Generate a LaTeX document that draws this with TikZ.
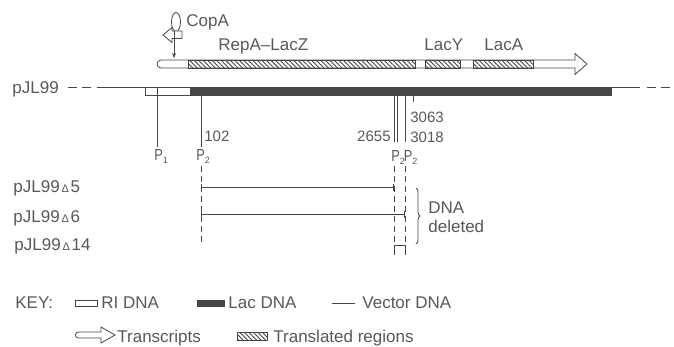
\documentclass[tikz,border=0pt]{standalone}
\usepackage{fontspec}
\setmainfont{Liberation Sans}
\usetikzlibrary{arrows.meta,patterns.meta,decorations.pathreplacing}
\definecolor{inkGray}{RGB}{70,70,70}
\definecolor{textGray}{RGB}{88,88,88}
\newcommand{\subP}[1]{\scalebox{0.8}[1]{P}\raisebox{-0.45ex}{\fontsize{9}{9}\selectfont #1}}
\newcommand{\dlt}{{\fontsize{11}{11}\selectfont\,Δ\,}}
\tikzset{
  lbl/.style={inner sep=0pt,anchor=base west,text=textGray,font=\fontsize{17}{19}\selectfont},
  numlbl/.style={lbl,font=\fontsize{15}{17}\selectfont},
  plbl/.style={lbl,font=\fontsize{16}{18}\selectfont},
  hatched/.style={pattern={Lines[angle=-45,distance=3.2pt,line width=0.9pt]},pattern color=inkGray},
  dashguide/.style={dash pattern=on 6pt off 4pt},
  deltick/.style={{Bar[width=7pt]}-{Bar[width=7pt]}}
}

\begin{document}
\begin{tikzpicture}[x=1pt,y=-1pt,line width=0.8pt,inkGray]
\useasboundingbox (0,0) rectangle (674,346);

% transcript with translated regions
\draw[fill=white] (161,60) -- (575,60) -- (575,53.5) -- (587,64) -- (575,74.5) -- (575,68) -- (161,68) arc[start angle=90,end angle=270,radius=4] -- cycle;
\foreach \a/\b in {188/415,425/460,473/533}
  \draw[hatched] (\a,60) rectangle (\b,68);
\node[lbl] (repaLacz) at (218,50) {RepA–LacZ};
\node[lbl] (lacY) at (424,50) {LacY};
\node[lbl] (lacA) at (484,50) {LacA};

% CopA
\draw (176,22) ellipse[x radius=4.5,y radius=9.5];
\draw[fill=white] (163,35) -- (172,27.5) -- (172,31) -- (182,31) -- (182,38.5) -- (172,38.5) -- (172,42.5) -- cycle;
\draw[-{Stealth[length=5pt,width=4pt]}] (174,30.5) -- (174,58);
\node[lbl] (copA) at (186,26) {CopA};

% pJL99 map
\node[lbl] (pjl) at (12,93) {pJL99};
\draw[dash pattern=on 9pt off 5pt] (68,87.5) -- (91,87.5);
\draw (97,87.5) -- (640,87.5);
\draw[dash pattern=on 9pt off 5pt] (647,87.5) -- (670,87.5);
\draw[fill=white] (145,87.5) rectangle (190,95);
\fill (190,87.5) rectangle (612,95.5);

\draw (157,87.5) -- (157,147);
\draw (201,95) -- (201,147);
\foreach \x in {394.5,397.5,405.5}
  \draw (\x,95) -- (\x,142);
\draw (413.5,95) -- (413.5,102);

\node[numlbl] (n102) at (204,141) {102};
\node[numlbl,anchor=base east] (n2655) at (391,141) {2655};
\node[numlbl] (n3063) at (410,122) {3063};
\node[numlbl] (n3018) at (410,142) {3018};
\node[plbl] (pOne) at (154,160) {\subP{1}};
\node[plbl] (pTwo) at (196,160) {\subP{2}};
\node[plbl] (pTwoTwo) at (391,161) {\subP{2}\kern-1pt\subP{2}};

% deletions
\foreach \x in {201,394,405}
  \draw[dashguide] (\x,166) -- (\x,242);
\node[lbl] (d5) at (13,192) {pJL99\dlt5};
\node[lbl] (d6) at (13,222) {pJL99\dlt6};
\node[lbl] (d14) at (14,250) {pJL99\dlt14};
\draw[deltick] (201,187) -- (394,187);
\draw[deltick] (201,214) -- (405,214);
\draw (394,255) -- (394,245) -- (405,245) -- (405,255);
\draw[decorate,decoration={brace,amplitude=4pt}] (416,188) -- (416,244);
\node[lbl] (dnaLbl) at (428,213) {DNA};
\node[lbl] (delLbl) at (428,232) {deleted};

% key
\node[lbl] (key) at (15,308) {KEY:};
\draw[fill=white] (75,300) rectangle (97,306.5);
\node[lbl] (keyRi) at (101,308) {RI DNA};
\fill (197,300) rectangle (225,307);
\node[lbl] (keyLac) at (228,308) {Lac DNA};
\draw (332,303.5) -- (355,303.5);
\node[lbl] (keyVec) at (362,308) {Vector DNA};
\draw[fill=white] (78.5,332) -- (101,332) -- (101,327) -- (115,335) -- (101,343) -- (101,338) -- (78.5,338) arc[start angle=90,end angle=270,radius=3] -- cycle;
\node[lbl] (keyTr) at (117,342) {Transcripts};
\draw[hatched] (237,332) rectangle (267,340);
\node[lbl] (keyTl) at (273,342) {Translated regions};
\end{tikzpicture}
\end{document}
